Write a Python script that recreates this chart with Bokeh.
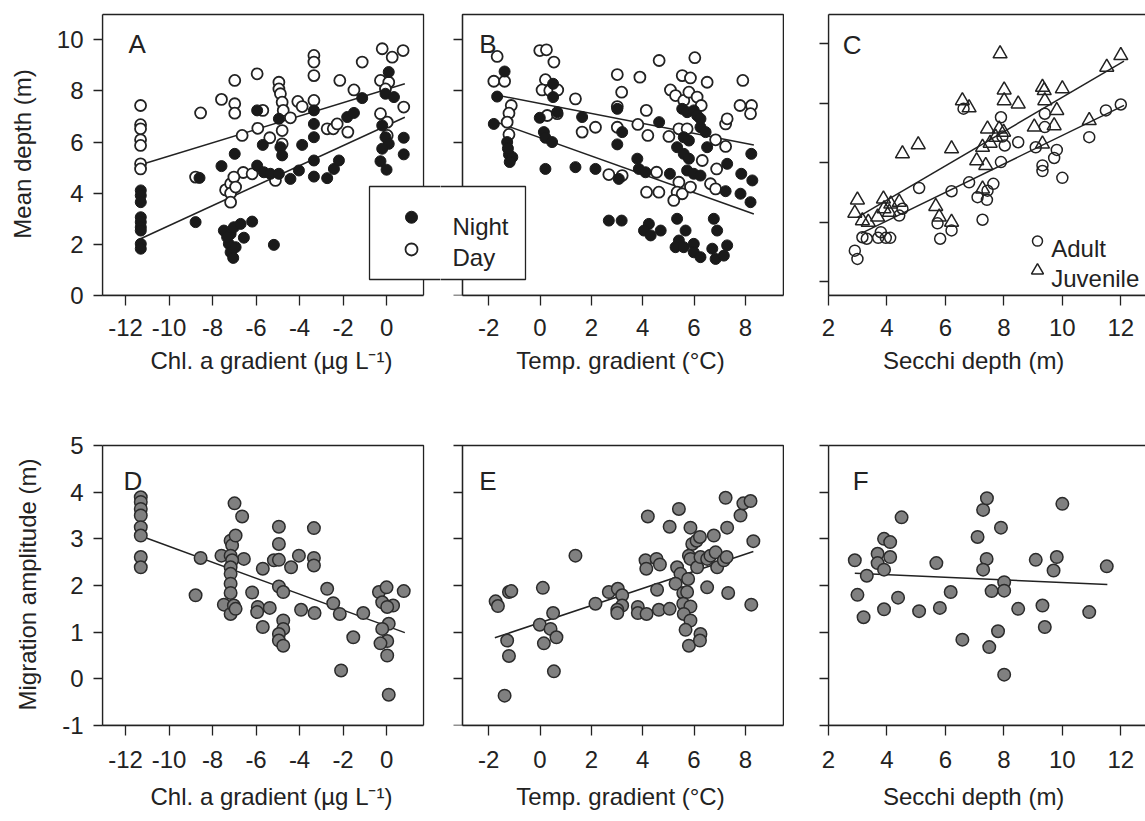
from bokeh.plotting import figure
from bokeh.models import Range1d, LinearAxis, FixedTicker, BoxAnnotation, Label
from bokeh.layouts import column, row
from bokeh.embed import file_html
from bokeh.resources import INLINE

# ---------------- data ----------------
# Panel A: mean depth vs Chl. a gradient
a_night_x = [-11.3, -11.3, -11.3, -11.3, -11.3, -11.3, -11.3, -11.3, -11.3,
             -8.6, -8.78, -7.59, -6.98, -7.48, -7.17, -7.02, -6.71, -6.56, -6.18, -7.25, -7.17, -7.05,
             -6.94, -7.33, -5.18, -5.95, -5.69, -5.95, -5.64, -5.34, -4.95, -4.95, -4.88, -4.80, -4.42,
             -4.03, -3.88, -3.34, -3.34, -3.34, -3.34, -3.34, -2.73, -2.42, -2.19, -1.81, -1.50, -1.12,
             0.10, -0.05, 0.34, -0.20, -0.05, 0.10, -0.20, 0.79, 0.79, -0.28, 0.00]
a_night_y = [4.11, 3.91, 3.65, 3.06, 2.87, 2.67, 2.54, 2.02, 1.83,
             4.60, 2.87, 5.06, 5.54, 2.54, 2.41, 2.67, 2.80, 2.26, 2.89, 2.02, 1.69, 1.47,
             1.89, 2.28, 1.98, 7.24, 5.89, 5.08, 4.82, 4.76, 4.76, 6.91, 5.80, 5.48, 4.56,
             4.89, 5.89, 7.24, 6.71, 6.19, 5.28, 4.65, 4.59, 4.95, 5.28, 6.98, 7.14, 7.72,
             8.74, 7.89, 7.76, 6.65, 6.19, 5.93, 5.74, 6.17, 5.52, 5.25, 4.92]
a_day_x = [-11.31, -11.31, -11.31, -11.31, -11.31, -11.31, -11.31,
           -8.55, -8.78, -7.59, -6.98, -6.98, -6.98, -6.64, -6.59, -6.18, -7.40, -7.17, -7.17, -7.17,
           -7.02, -6.94, -5.95, -5.92, -5.69, -5.37, -5.11, -4.95, -4.95, -4.88, -4.80, -4.75, -4.80,
           -4.80, -4.42, -4.08, -3.88, -3.34, -3.34, -3.34, -3.34, -2.73, -2.45, -2.27, -2.15, -1.78,
           -1.50, -1.12, -0.20, 0.26, 0.76, -0.28, 0.10, -0.05, 0.79, -0.28, 0.03, 0.03]
a_day_y = [7.43, 6.68, 6.52, 6.09, 5.87, 5.15, 4.95,
           7.14, 4.63, 7.67, 8.41, 7.50, 7.13, 6.26, 4.81, 4.76, 4.13, 4.37, 4.00, 3.65,
           4.63, 4.24, 8.67, 6.54, 7.24, 6.17, 4.50, 8.34, 8.08, 7.89, 7.56, 7.24, 6.45,
           5.93, 6.95, 7.59, 7.39, 9.39, 9.13, 8.60, 7.63, 6.52, 6.52, 6.71, 8.41, 6.39,
           8.04, 9.13, 9.65, 9.32, 9.58, 8.41, 8.34, 8.08, 7.37, 7.11, 6.78, 6.26]
a_fit_x = [-11.31, 0.84]
a_fit_night_y = [2.22, 6.97]
a_fit_day_y = [5.11, 8.28]

# Panel B: mean depth vs temperature gradient
b_night_x = [-1.38, -1.67, -1.80, -1.28, -1.21, -1.08, -1.18, -1.25,
             0.51, 0.51, 0.67, -0.01, 0.15, 0.21, 0.47, 0.21, 1.38, 1.64, 2.16,
             3.01, 3.20, 3.01, 3.07, 2.68, 3.18,
             3.79, 3.85, 4.11, 4.24, 4.05, 4.31, 4.70, 4.64, 5.06,
             5.54, 5.73, 5.99, 6.12, 6.25, 5.60, 5.80, 5.34, 5.60, 5.80, 5.73, 5.99, 6.25, 6.51, 6.45, 6.25,
             5.34, 5.67, 5.41, 5.28, 5.60, 5.99, 5.99, 6.25, 6.71, 6.84, 7.16, 7.29, 6.77, 6.90, 7.23,
             7.29, 7.84, 7.81, 8.23, 8.27, 8.20]
b_night_y = [8.76, 7.78, 6.71, 6.00, 5.51, 5.41, 5.22, 5.75,
             8.28, 7.76, 7.17, 6.95, 6.39, 6.17, 6.00, 4.95, 5.02, 6.98, 4.95,
             7.30, 6.39, 5.91, 4.56, 2.93, 2.93,
             5.35, 4.95, 4.82, 2.80, 2.54, 2.35, 2.54, 6.78, 4.76,
             7.30, 7.17, 7.24, 7.04, 6.58, 6.19, 6.06, 5.80, 5.54, 5.35, 4.89, 4.76, 4.69, 5.80, 6.39, 6.91,
             3.00, 2.54, 2.15, 1.89, 1.89, 2.02, 1.69, 1.50, 1.83, 1.43, 1.56, 1.96, 3.00, 2.54, 4.08,
             5.15, 4.76, 3.98, 5.54, 4.50, 3.65]
b_day_x = [-1.67, -1.80, -1.38, -1.12, -1.21, -1.28, -1.21,
           -0.01, 0.25, 0.54, 0.21, 0.08, 0.38, 0.69, 0.28, 0.67, 1.38, 1.64, 2.16,
           3.01, 3.18, 3.01, 3.01, 2.68, 3.20,
           3.89, 4.14, 3.81, 4.20, 4.64, 4.54, 4.15, 4.63, 5.02,
           5.54, 5.86, 6.03, 5.08, 5.28, 5.60, 5.80, 6.12, 6.28, 6.51, 5.41, 5.73, 5.41, 5.34, 5.54,
           5.21, 5.86, 6.32, 6.64, 6.84, 6.88, 7.23, 7.23, 7.29, 7.90, 7.79, 8.24, 8.20, 6.84]
b_day_y = [9.35, 8.38, 8.38, 7.43, 7.13, 6.78, 6.30,
           9.58, 9.61, 9.13, 8.44, 8.04, 8.02, 8.04, 7.04, 7.11, 7.69, 6.39, 6.58,
           8.64, 7.95, 7.39, 6.58, 4.73, 4.69,
           8.54, 7.24, 6.69, 6.26, 9.19, 4.82, 4.04, 4.04, 6.22,
           8.60, 8.51, 9.30, 8.04, 7.82, 7.63, 7.95, 7.76, 7.43, 8.34, 6.52, 6.52, 4.43, 4.04, 3.98,
           3.72, 4.24, 5.28, 4.37, 4.17, 4.95, 6.71, 5.83, 6.91, 8.41, 7.43, 7.43, 7.11, 6.09]
b_fit_x = [-1.80, 8.33]
b_fit_night_y = [6.82, 3.19]
b_fit_day_y = [7.86, 5.89]

# Panel C: depth vs Secchi depth (unlabelled y scale)
c_adult_x = [2.90, 2.99, 3.16, 3.31, 3.70, 3.79, 3.96, 4.11, 4.42, 4.53, 5.10, 5.73, 5.82, 6.21,
             6.21, 6.81, 7.10, 7.27, 7.42, 7.44, 7.64, 7.90, 7.90, 7.95, 8.03, 8.49, 9.09, 9.32,
             9.32, 9.40, 9.40, 9.72, 9.81, 10.00, 10.92, 11.49, 12.00, 6.62]
c_adult_y = [3.04, 2.76, 3.49, 3.44, 3.47, 3.66, 3.47, 3.47, 4.22, 4.45, 5.15, 3.96, 3.44, 3.72,
             5.04, 5.34, 4.84, 4.08, 4.75, 5.06, 5.29, 6.02, 7.53, 6.88, 6.58, 6.69, 6.52, 5.91,
             5.72, 7.65, 7.20, 6.16, 6.43, 5.49, 6.86, 7.76, 7.96, 7.82]
c_juv_x = [2.99, 2.90, 3.16, 3.36, 3.68, 3.88, 3.90, 4.08, 4.13, 4.42, 4.53, 5.07, 5.67, 5.79,
           6.21, 6.21, 6.58, 6.81, 7.07, 7.27, 7.38, 7.27, 7.44, 7.53, 7.72, 7.84, 7.99, 7.87,
           8.01, 8.01, 8.49, 9.04, 9.32, 9.38, 9.40, 9.72, 9.81, 10.00, 10.92, 11.52, 12.00, 9.32]
c_juv_y = [4.75, 4.30, 4.05, 4.00, 4.17, 4.78, 4.45, 4.33, 4.61, 4.67, 6.30, 6.61, 4.53, 4.17,
           4.00, 6.47, 8.09, 7.85, 6.07, 6.52, 5.91, 5.12, 7.14, 6.66, 6.86, 7.14, 7.03, 9.67,
           8.45, 8.09, 7.98, 7.20, 8.54, 8.43, 8.09, 7.25, 7.76, 8.49, 7.42, 9.22, 9.61, 6.63]
c_fit_juv_x = [2.99, 12.11]
c_fit_juv_y = [4.16, 9.42]
c_fit_adult_x = [3.10, 12.11]
c_fit_adult_y = [3.61, 7.93]

# Panel D: migration amplitude vs Chl. a gradient
d_x = [-11.3, -11.3, -11.3, -11.3, -11.3, -11.3, -11.3, -11.3,
       -8.78, -8.55, -7.59, -7.17, -7.10, -6.94, -6.99, -6.64, -6.56, -7.17, -7.10, -7.17, -7.17,
       -7.17, -7.17, -7.48, -7.17, -7.02, -6.94, -6.18, -5.92, -5.95, -5.69, -5.69, -5.37, -5.18,
       -4.95, -4.95, -4.95, -4.95, -4.75, -4.75, -4.75, -4.95, -4.95, -4.75, -4.39, -4.03, -3.93,
       -3.34, -3.34, -3.34, -3.31, -2.73, -2.45, -2.15, -2.09, -1.53, -1.07, -0.35, -0.20, 0.00,
       0.30, 0.10, -0.20, 0.03, -0.28, 0.03, 0.10, 0.79, 0.03]
d_y = [3.89, 3.79, 3.64, 3.50, 3.25, 3.07, 2.61, 2.39,
       1.79, 2.59, 2.64, 2.96, 2.86, 3.07, 3.76, 3.48, 2.57, 2.64, 2.54, 2.39, 2.25,
       2.04, 1.84, 1.59, 1.39, 1.57, 1.50, 1.85, 1.54, 1.43, 1.11, 2.36, 1.52, 2.54,
       2.55, 3.26, 2.89, 1.98, 1.86, 1.25, 1.07, 0.96, 0.82, 0.71, 2.39, 2.64, 1.48,
       3.23, 2.59, 2.43, 1.41, 1.93, 1.62, 1.39, 0.18, 0.89, 1.41, 1.86, 1.64, 1.96,
       1.57, 1.18, 1.07, 0.81, 0.76, 0.50, -0.34, 1.88, 1.54]
d_fit_x = [-11.36, 0.84]
d_fit_y = [3.07, 0.99]

# Panel E: migration amplitude vs temperature gradient
e_x = [-1.73, -1.64, -1.28, -1.21, -1.38, -1.21, -1.12, 0.11, -0.01, 0.15, 0.41, 0.51, 0.64,
       0.54, 1.38, 2.16, 2.68, 3.03, 3.20, 3.20, 3.01, 3.01, 3.81, 3.81, 4.15, 4.11, 4.14, 4.20,
       4.54, 4.67, 4.56, 4.63, 5.05, 5.05, 5.41, 5.34, 5.47, 5.28, 5.58, 5.73, 5.58, 5.86, 5.60,
       5.86, 5.67, 5.77, 5.80, 6.25, 6.23, 5.86, 5.93, 6.10, 6.23, 5.80, 5.86, 6.12, 6.25, 6.51,
       6.64, 6.84, 6.77, 6.90, 7.16, 7.27, 7.29, 6.51, 7.33, 7.23, 7.81, 7.92, 8.20, 8.31, 8.23]
e_y = [1.66, 1.56, 0.82, 0.49, -0.36, 1.86, 1.88, 1.95, 1.16, 0.76, 1.07, 1.41, 0.89,
       0.16, 2.64, 1.61, 1.86, 1.93, 1.79, 1.57, 1.48, 1.41, 1.54, 1.41, 1.39, 2.54, 2.36, 3.48,
       2.57, 2.45, 1.91, 1.48, 1.50, 3.26, 3.64, 2.39, 2.25, 2.04, 1.84, 1.86, 1.61, 1.55, 1.39,
       1.25, 1.05, 2.14, 0.71, 0.96, 0.82, 3.24, 2.89, 2.96, 3.04, 2.64, 2.57, 2.39, 2.61, 2.57,
       2.64, 2.71, 3.07, 2.39, 2.54, 2.61, 3.24, 1.96, 1.84, 3.88, 3.50, 3.76, 3.81, 2.95, 1.59]
e_fit_x = [-1.76, 8.31]
e_fit_y = [0.88, 2.73]

# Panel F: migration amplitude vs Secchi depth
f_x = [2.90, 2.99, 3.20, 3.31, 3.68, 3.68, 3.90, 3.90, 3.90, 4.11, 4.11, 4.38, 4.50, 5.10,
       5.69, 5.81, 6.18, 6.58, 7.10, 7.29, 7.42, 7.41, 7.29, 7.58, 7.50, 7.80, 7.90, 8.01,
       8.01, 8.01, 8.49, 9.09, 9.32, 9.40, 9.70, 9.81, 10.00, 10.92, 11.52]
f_y = [2.54, 1.80, 1.32, 2.21, 2.68, 2.48, 3.00, 2.34, 1.49, 2.93, 2.61, 1.74, 3.46, 1.45,
       2.48, 1.52, 1.86, 0.84, 3.04, 3.62, 3.87, 2.57, 2.34, 1.88, 0.68, 1.02, 3.24, 2.07,
       1.89, 0.09, 1.50, 2.55, 1.57, 1.11, 2.32, 2.61, 3.75, 1.43, 2.41]
f_fit_x = [2.90, 11.54]
f_fit_y = [2.26, 2.02]

# ticks and labels
ticks_chl = [-12, -10, -8, -6, -4, -2, 0]
ticks_temp = [-2, 0, 2, 4, 6, 8]
ticks_secchi = [2, 4, 6, 8, 10, 12]
ticks_depth = [0, 2, 4, 6, 8, 10]
ticks_c_y = [2, 4, 6, 8, 10]
ticks_amp = [-1, 0, 1, 2, 3, 4, 5]

label_depth = "Mean depth (m)"
label_amp = "Migration amplitude (m)"
label_chl = "Chl. a gradient (\u00b5g L\u207b\u00b9)"
label_temp = "Temp. gradient (\u00b0C)"
label_secchi = "Secchi depth (m)"

# ---------------- style ----------------
FONT = "Liberation Sans"
INK = "#222222"
LW = 1.3
PAD_RIGHT = "\u00a0" * 4   # shifts the centred Secchi label a little to the left


def make_fig(width, height, xr, yr, borders):
    l, r, t, b = borders
    p = figure(width=width, height=height, x_range=Range1d(*xr), y_range=Range1d(*yr),
               x_axis_location=None, y_axis_location=None, output_backend="svg",
               toolbar_location=None, min_border_left=l, min_border_right=r,
               min_border_top=t, min_border_bottom=b)
    p.outline_line_color = None
    p.xgrid.visible = False
    p.ygrid.visible = False
    p.background_fill_color = "white"
    p.border_fill_color = "white"
    return p


def add_axis(p, side, ticks, labels, bounds, label=None, tick_out=9, standoff=10,
             label_standoff=10, fixed=None):
    ax = LinearAxis(ticker=FixedTicker(ticks=ticks), bounds=bounds)
    if fixed is not None:
        ax.fixed_location = fixed
    ax.axis_line_color = INK
    ax.axis_line_width = LW
    ax.major_tick_line_color = INK
    ax.major_tick_line_width = LW
    ax.major_tick_in = 0
    ax.major_tick_out = tick_out
    ax.minor_tick_line_color = None
    ax.major_label_text_font = FONT
    ax.major_label_text_font_size = "24px"
    ax.major_label_text_color = INK
    ax.major_label_standoff = standoff
    ax.major_label_overrides = {t: s for t, s in zip(ticks, labels)}
    if label:
        ax.axis_label = label
        ax.axis_label_text_font = FONT
        ax.axis_label_text_font_size = "24px"
        ax.axis_label_text_font_style = "normal"
        ax.axis_label_text_color = INK
        ax.axis_label_standoff = label_standoff
    p.add_layout(ax, side)
    return ax


def add_box(p, left, right, bottom, top, fill=None):
    p.add_layout(BoxAnnotation(left=left, right=right, bottom=bottom, top=top,
                               fill_color=fill if fill else None, fill_alpha=1.0 if fill else 0.0,
                               line_color=INK, line_alpha=1.0, line_width=LW, level="annotation"))


def add_text(p, x, y, text, size="24px"):
    p.add_layout(Label(x=x, y=y, text=text, text_font=FONT, text_font_size=size,
                       text_color=INK, text_align="left", text_baseline="alphabetic"))


def fit_line(p, x, y):
    p.line(x, y, line_color=INK, line_width=1.5)


def night_day(p, nx, ny, dx, dy):
    p.scatter(dx, dy, marker="circle", size=11, fill_color="white", line_color=INK, line_width=1.8)
    p.scatter(nx, ny, marker="circle", size=11, fill_color="#1a1a1a", line_color="#1a1a1a", line_width=1)


def grey_pts(p, x, y):
    p.scatter(x, y, marker="circle", size=12.5, fill_color="#808080", line_color="#2b2b2b", line_width=1.5)


lbl = lambda ticks: [str(t) for t in ticks]
blank = lambda ticks: ["" for _ in ticks]

XA = (-13.06, 2.480)
XB = (-3.877, 10.147)
XC = (2.0, 12.845)
YA = (0.0, 11.068)
YC = (1.529, 11.058)
YD = (-1.0, 5.043)

TOP_B = (12, 125)
BOT_B = (23, 96)

# ---------------- A ----------------
pa = make_fig(440, 420, XA, YA, (102, 0) + TOP_B)
add_axis(pa, "left", ticks_depth, lbl(ticks_depth), (0, 10.99), label_depth, 9, 10, 18)
add_axis(pa, "below", ticks_chl, lbl(ticks_chl), (-13.06, 1.70), label_chl, 10, 13, 8)
fit_line(pa, a_fit_x, a_fit_day_y)
fit_line(pa, a_fit_x, a_fit_night_y)
night_day(pa, a_night_x, a_night_y, a_day_x, a_day_y)
add_box(pa, -13.06, 1.70, 0, 10.99)
add_box(pa, -0.784, 10, 0.626, 4.263, fill="white")
pa.scatter([1.147], [3.06], marker="circle", size=12, fill_color="#1a1a1a",
           line_color="#1a1a1a", level="overlay")
pa.scatter([1.147], [1.80], marker="circle", size=12, fill_color="white", line_color=INK,
           line_width=1.8, level="overlay")
add_text(pa, -11.86, 9.82, "A", "26px")

# ---------------- B ----------------
pb = make_fig(360, 420, XB, YA, (0, 0) + TOP_B)
add_axis(pb, "left", ticks_depth, blank(ticks_depth), (0, 10.99), None, 9, 10, 10, fixed=-3.02)
add_axis(pb, "below", ticks_temp, lbl(ticks_temp), (-3.02, 9.48), label_temp, 10, 13, 8)
fit_line(pb, b_fit_x, b_fit_day_y)
fit_line(pb, b_fit_x, b_fit_night_y)
night_day(pb, b_night_x, b_night_y, b_day_x, b_day_y)
add_box(pb, -3.02, 9.48, 0, 10.99)
add_box(pb, -10, -0.566, 0.626, 4.263, fill="white")
add_text(pb, -3.41, 2.70, "Night")
add_text(pb, -3.41, 1.49, "Day")
add_text(pb, -2.37, 9.84, "B", "26px")

# ---------------- C ----------------
pc = make_fig(345, 420, XC, YC, (28, 0) + TOP_B)
add_axis(pc, "left", ticks_c_y, blank(ticks_c_y), (1.529, 10.99), None, 9, 10, 10)
add_axis(pc, "below", ticks_secchi, lbl(ticks_secchi), (2.0, 12.845), label_secchi + PAD_RIGHT, 10, 13, 8)
fit_line(pc, c_fit_juv_x, c_fit_juv_y)
fit_line(pc, c_fit_adult_x, c_fit_adult_y)
pc.scatter(c_adult_x, c_adult_y, marker="circle", size=11, fill_color=None, line_color=INK, line_width=1.5)
pc.scatter(c_juv_x, c_juv_y, marker="triangle", size=14, fill_color=None, line_color=INK, line_width=1.5)
add_box(pc, 2.0, 30, 1.529, 10.99)
pc.scatter([9.15], [3.36], marker="circle", size=10, fill_color=None, line_color=INK, line_width=1.5)
pc.scatter([9.15], [2.37], marker="triangle", size=12, fill_color=None, line_color=INK, line_width=1.5)
add_text(pc, 9.62, 3.10, "Adult")
add_text(pc, 9.62, 2.09, "Juvenile")
add_text(pc, 2.49, 9.96, "C", "26px")

# ---------------- D ----------------
pd_ = make_fig(440, 401, XA, YD, (102, 0) + BOT_B)
add_axis(pd_, "left", ticks_amp, lbl(ticks_amp), (-1, 5), label_amp, 9, 10, 18)
add_axis(pd_, "below", ticks_chl, lbl(ticks_chl), (-13.06, 1.70), label_chl, 10, 15, 12)
fit_line(pd_, d_fit_x, d_fit_y)
grey_pts(pd_, d_x, d_y)
add_box(pd_, -13.06, 1.70, -1, 5)
add_text(pd_, -12.09, 4.25, "D", "26px")

# ---------------- E ----------------
pe = make_fig(360, 401, XB, YD, (0, 0) + BOT_B)
add_axis(pe, "left", ticks_amp, blank(ticks_amp), (-1, 5), None, 9, 10, 10, fixed=-3.02)
add_axis(pe, "below", ticks_temp, lbl(ticks_temp), (-3.02, 9.48), label_temp, 10, 15, 12)
fit_line(pe, e_fit_x, e_fit_y)
grey_pts(pe, e_x, e_y)
add_box(pe, -3.02, 9.48, -1, 5)
add_text(pe, -2.37, 4.25, "E", "26px")

# ---------------- F ----------------
pf = make_fig(345, 401, XC, YD, (28, 0) + BOT_B)
add_axis(pf, "left", ticks_amp, blank(ticks_amp), (-1, 5), None, 9, 10, 10)
add_axis(pf, "below", ticks_secchi, lbl(ticks_secchi), (2.0, 12.845), label_secchi + PAD_RIGHT, 10, 15, 12)
fit_line(pf, f_fit_x, f_fit_y)
grey_pts(pf, f_x, f_y)
add_box(pf, 2.0, 30, -1, 5)
add_text(pf, 2.83, 4.25, "F", "26px")

layout = column(row(pa, pb, pc), row(pd_, pe, pf))
open("out.html", "w").write(file_html(layout, INLINE))
